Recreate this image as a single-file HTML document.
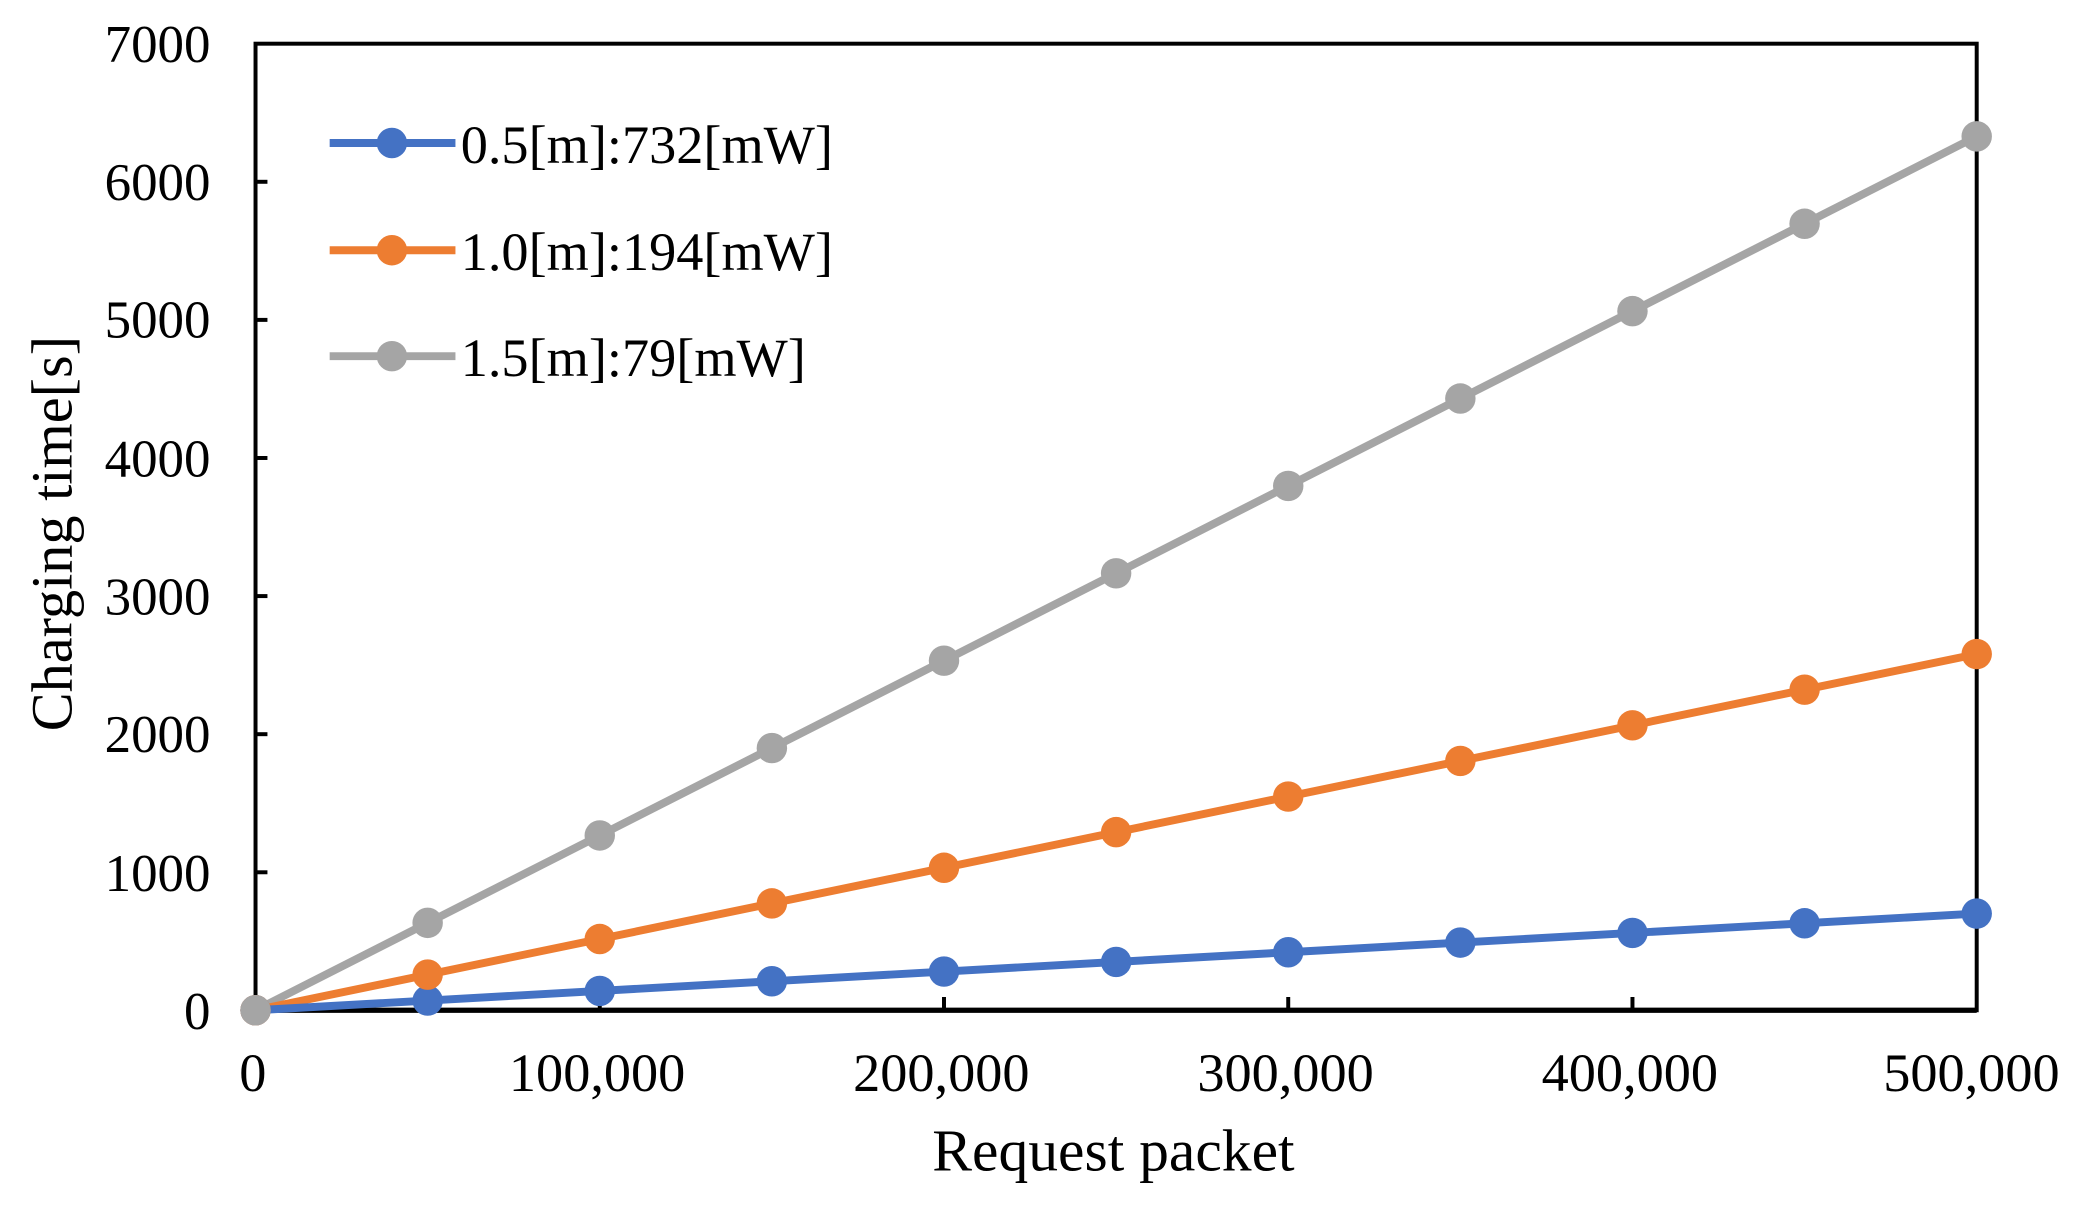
<!DOCTYPE html>
<html><head><meta charset="utf-8"><style>
html,body{margin:0;padding:0;background:#fff;}
svg{display:block;}
text{font-family:"Liberation Serif",serif;fill:#000;}
</style></head><body>
<svg width="2076" height="1207" viewBox="0 0 1568 911.6" preserveAspectRatio="none" xmlns="http://www.w3.org/2000/svg">
<rect x="0" y="0" width="1568" height="912" fill="#fff"/>
<rect x="193" y="33" width="1300" height="730" fill="none" stroke="#000" stroke-width="3"/>
<line x1="193" y1="763" x2="1493" y2="763" stroke="#000" stroke-width="4"/>
<g stroke="#000" stroke-width="3">
<line x1="193" y1="137.3" x2="202" y2="137.3"/>
<line x1="193" y1="241.6" x2="202" y2="241.6"/>
<line x1="193" y1="345.9" x2="202" y2="345.9"/>
<line x1="193" y1="450.2" x2="202" y2="450.2"/>
<line x1="193" y1="554.5" x2="202" y2="554.5"/>
<line x1="193" y1="658.8" x2="202" y2="658.8"/>
<line x1="453" y1="763" x2="453" y2="753"/>
<line x1="713" y1="763" x2="713" y2="753"/>
<line x1="973" y1="763" x2="973" y2="753"/>
<line x1="1233" y1="763" x2="1233" y2="753"/>
</g>
<g font-size="40" text-anchor="end">
<text x="159" y="47">7000</text>
<text x="159" y="151">6000</text>
<text x="159" y="255">5000</text>
<text x="159" y="360">4000</text>
<text x="159" y="464">3000</text>
<text x="159" y="568">2000</text>
<text x="159" y="673">1000</text>
<text x="159" y="777">0</text>
</g>
<g font-size="41" text-anchor="middle">
<text x="191" y="824">0</text>
<text x="451" y="824">100,000</text>
<text x="711" y="824">200,000</text>
<text x="971" y="824">300,000</text>
<text x="1231" y="824">400,000</text>
<text x="1489" y="824">500,000</text>
</g>
<text x="841" y="884" font-size="45" text-anchor="middle">Request packet</text>
<text transform="translate(54,403) rotate(-90)" font-size="44" text-anchor="middle">Charging time[s]</text>
<g fill="none" stroke-width="6">
<polyline stroke="#a5a5a5" points="193,763 1493,103"/>
<polyline stroke="#ed7d31" points="193,763 1493,494"/>
<polyline stroke="#4472c4" points="193,763 1493,690"/>
</g>
<g id="m"></g>
<script>
var g=document.getElementById('m'),ns='http://www.w3.org/2000/svg';
[['#4472c4',690],['#ed7d31',494],['#a5a5a5',103]].forEach(function(s){
for(var i=0;i<=10;i++){var c=document.createElementNS(ns,'circle');
c.setAttribute('cx',193+130*i);c.setAttribute('cy',763-(763-s[1])*i/10);
c.setAttribute('r',11.5);c.setAttribute('fill',s[0]);g.appendChild(c);}});
</script>
<g stroke-width="6">
<line x1="249" y1="108" x2="344" y2="108" stroke="#4472c4"/>
<line x1="249" y1="189" x2="344" y2="189" stroke="#ed7d31"/>
<line x1="249" y1="269" x2="344" y2="269" stroke="#a5a5a5"/>
</g>
<circle cx="296" cy="108" r="11.5" fill="#4472c4"/>
<circle cx="296" cy="189" r="11.5" fill="#ed7d31"/>
<circle cx="296" cy="269" r="11.5" fill="#a5a5a5"/>
<g font-size="41">
<text x="348" y="123">0.5[m]:732[mW]</text>
<text x="348" y="204">1.0[m]:194[mW]</text>
<text x="348" y="284">1.5[m]:79[mW]</text>
</g>
</svg>
</body></html>
